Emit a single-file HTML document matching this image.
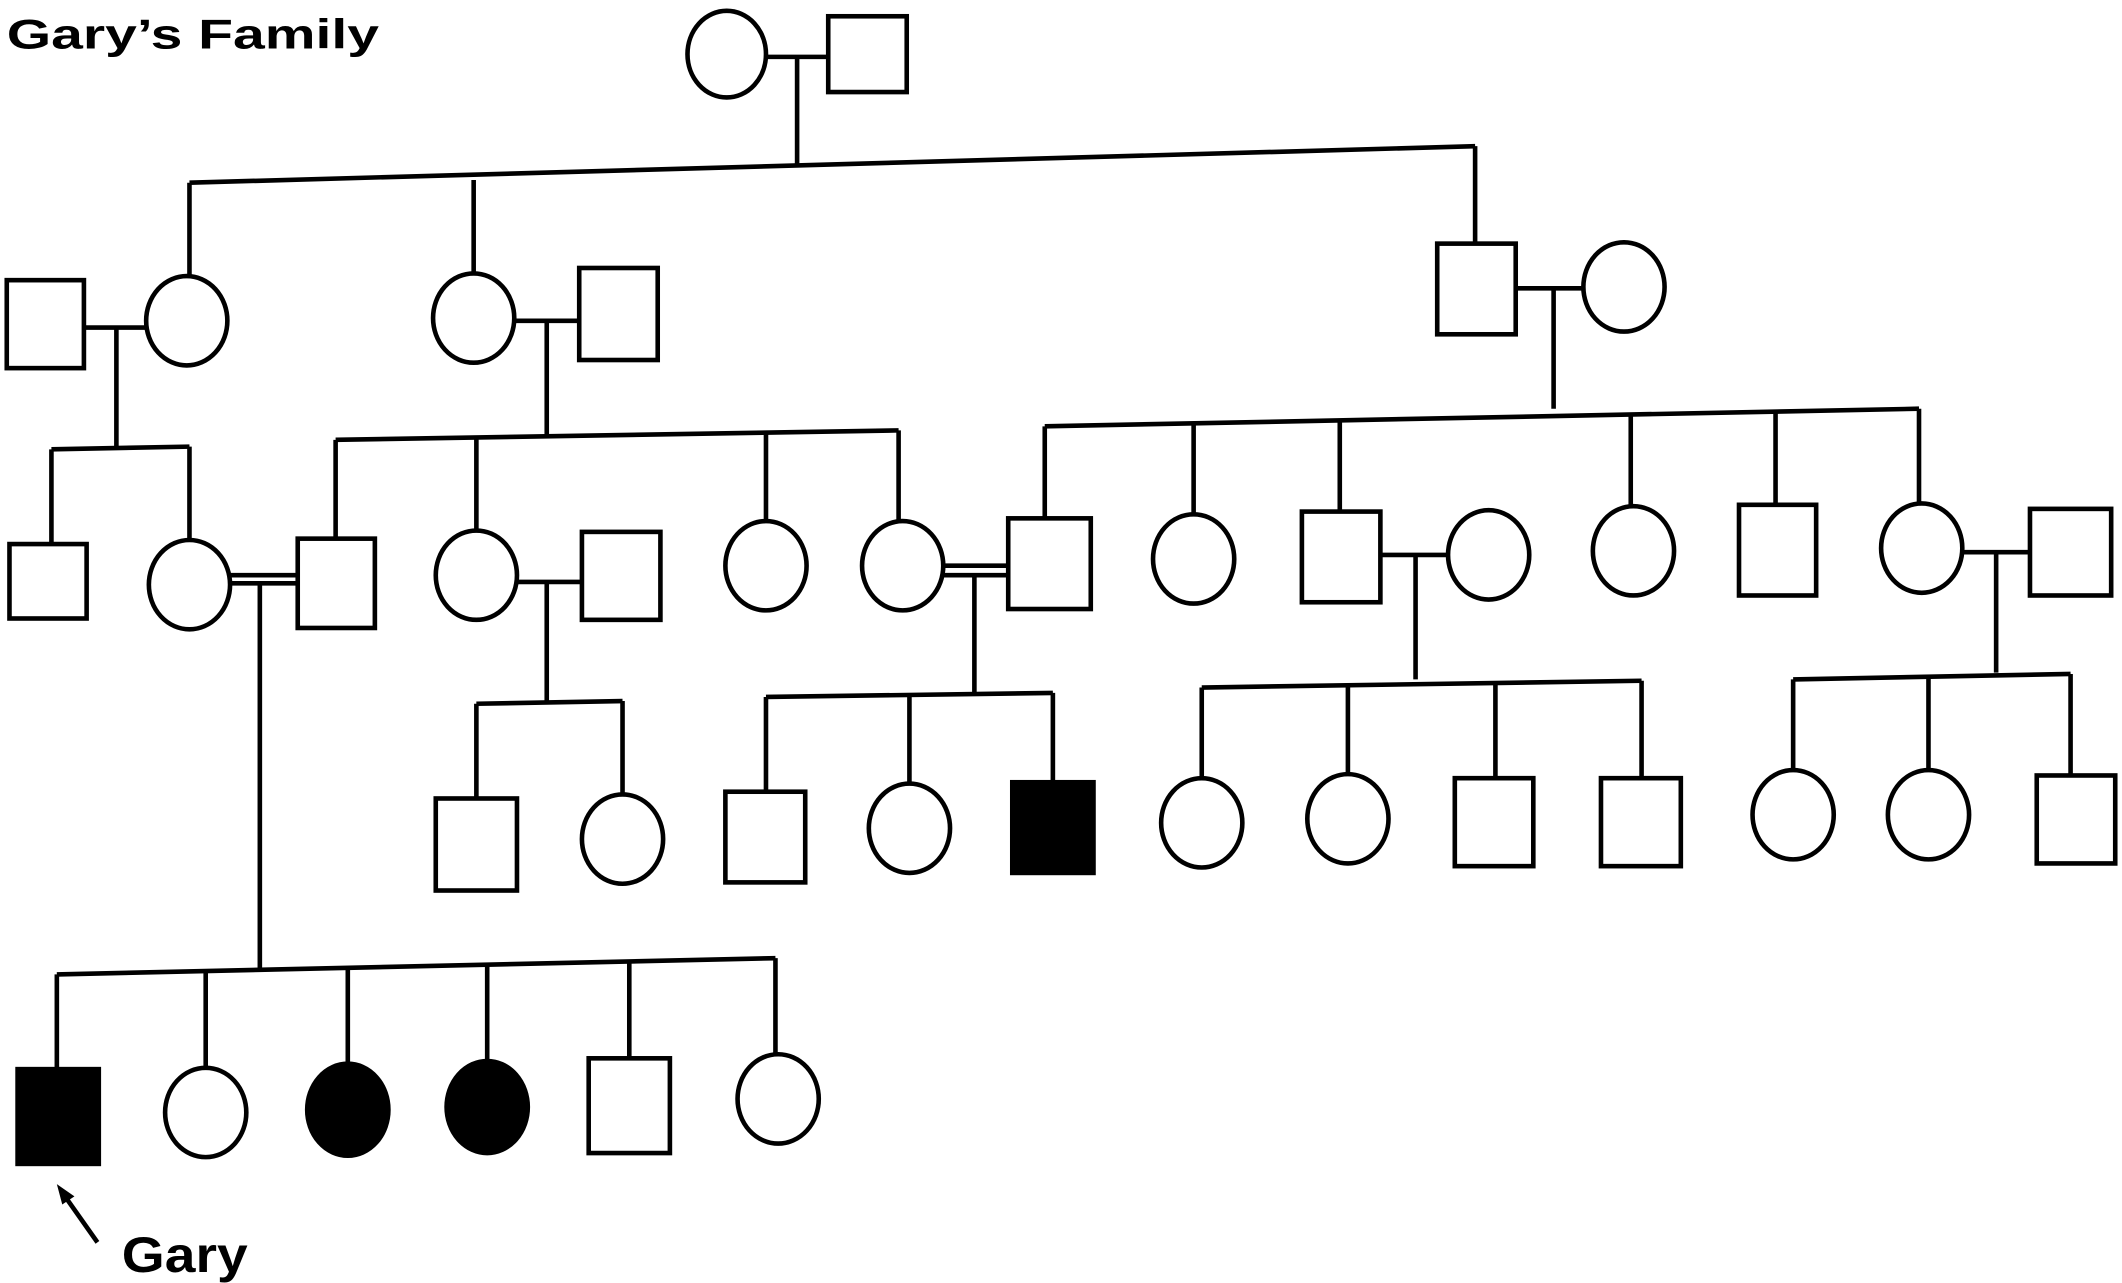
<!DOCTYPE html>
<html><head><meta charset="utf-8"><style>html,body{margin:0;padding:0;background:#fff}svg{display:block}</style></head><body>
<svg width="2122" height="1283" viewBox="0 0 1568 948" xmlns="http://www.w3.org/2000/svg">
<g fill="none" stroke="#000" stroke-width="3.4">
<!-- gen1 -->
<ellipse cx="537" cy="40" rx="29" ry="32"/><rect x="612" y="12" width="58" height="56"/>
<line x1="566" y1="42" x2="612" y2="42"/><line x1="589" y1="42" x2="589" y2="123"/>
<line x1="140" y1="135" x2="1090" y2="108"/>
<line x1="140" y1="135" x2="140" y2="205"/><line x1="350" y1="133" x2="350" y2="202"/><line x1="1090" y1="108" x2="1090" y2="180"/>
<!-- gen2 -->
<rect x="5" y="207" width="57" height="65"/><ellipse cx="138" cy="237" rx="30" ry="33"/>
<line x1="62" y1="242" x2="108" y2="242"/><line x1="86" y1="242" x2="86" y2="330"/>
<ellipse cx="350" cy="235" rx="30" ry="33"/><rect x="428" y="198" width="58" height="68"/>
<line x1="380" y1="237" x2="428" y2="237"/><line x1="404" y1="237" x2="404" y2="322"/>
<rect x="1062" y="180" width="58" height="67"/><ellipse cx="1200" cy="212" rx="30" ry="33"/>
<line x1="1120" y1="213" x2="1170" y2="213"/><line x1="1148" y1="213" x2="1148" y2="302"/>
<!-- gen3 left -->
<line x1="38" y1="332" x2="140" y2="330"/><line x1="38" y1="332" x2="38" y2="402"/><line x1="140" y1="330" x2="140" y2="399"/>
<rect x="7" y="402" width="57" height="55"/><ellipse cx="140" cy="432" rx="30" ry="33"/>
<line x1="170" y1="425" x2="220" y2="425"/><line x1="170" y1="431" x2="220" y2="431"/>
<rect x="220" y="398" width="57" height="66"/>
<line x1="192" y1="431" x2="192" y2="716"/>
<line x1="248" y1="325" x2="664" y2="318"/>
<line x1="248" y1="325" x2="248" y2="398"/><line x1="352" y1="324" x2="352" y2="392"/><line x1="566" y1="321" x2="566" y2="385"/><line x1="664" y1="318" x2="664" y2="385"/>
<ellipse cx="352" cy="425" rx="30" ry="33"/><line x1="382" y1="430" x2="430" y2="430"/>
<rect x="430" y="393" width="58" height="65"/><line x1="404" y1="430" x2="404" y2="518"/>
<ellipse cx="566" cy="418" rx="30" ry="33"/><ellipse cx="667" cy="418" rx="30" ry="33"/>
<line x1="697" y1="418" x2="745" y2="418"/><line x1="697" y1="425" x2="745" y2="425"/>
<rect x="745" y="383" width="61" height="67"/><line x1="720" y1="425" x2="720" y2="512"/>
<line x1="772" y1="315" x2="1418" y2="302"/>
<line x1="772" y1="315" x2="772" y2="383"/><line x1="882" y1="313" x2="882" y2="380"/><line x1="990" y1="311" x2="990" y2="378"/><line x1="1205" y1="306" x2="1205" y2="374"/><line x1="1312" y1="304" x2="1312" y2="373"/><line x1="1418" y1="302" x2="1418" y2="372"/>
<ellipse cx="882" cy="413" rx="30" ry="33"/><rect x="962" y="378" width="58" height="67"/>
<line x1="1020" y1="410" x2="1070" y2="410"/><ellipse cx="1100" cy="410" rx="30" ry="33"/>
<line x1="1046" y1="410" x2="1046" y2="502"/>
<ellipse cx="1207" cy="407" rx="30" ry="33"/><rect x="1285" y="373" width="57" height="67"/>
<ellipse cx="1420" cy="405" rx="30" ry="33"/><line x1="1450" y1="408" x2="1500" y2="408"/>
<rect x="1500" y="376" width="60" height="64"/><line x1="1475" y1="408" x2="1475" y2="497"/>
<!-- gen4 -->
<line x1="352" y1="520" x2="460" y2="518"/><line x1="352" y1="520" x2="352" y2="590"/><line x1="460" y1="518" x2="460" y2="587"/>
<rect x="322" y="590" width="60" height="68"/><ellipse cx="460" cy="620" rx="30" ry="33"/>
<line x1="566" y1="515" x2="778" y2="512"/><line x1="566" y1="515" x2="566" y2="585"/><line x1="672" y1="514" x2="672" y2="580"/><line x1="778" y1="512" x2="778" y2="578"/>
<rect x="536" y="585" width="59" height="67"/><ellipse cx="672" cy="612" rx="30" ry="33"/>
<rect x="748" y="578" width="60" height="67" fill="#000"/>
<line x1="888" y1="508" x2="1213" y2="503"/><line x1="888" y1="508" x2="888" y2="575"/><line x1="996" y1="507" x2="996" y2="573"/><line x1="1105" y1="505" x2="1105" y2="575"/><line x1="1213" y1="503" x2="1213" y2="575"/>
<ellipse cx="888" cy="608" rx="30" ry="33"/><ellipse cx="996" cy="605" rx="30" ry="33"/>
<rect x="1075" y="575" width="58" height="65"/><rect x="1183" y="575" width="59" height="65"/>
<line x1="1325" y1="502" x2="1530" y2="498"/><line x1="1325" y1="502" x2="1325" y2="570"/><line x1="1425" y1="500" x2="1425" y2="570"/><line x1="1530" y1="498" x2="1530" y2="573"/>
<ellipse cx="1325" cy="602" rx="30" ry="33"/><ellipse cx="1425" cy="602" rx="30" ry="33"/>
<rect x="1505" y="573" width="58" height="65"/>
<!-- gen5 -->
<line x1="42" y1="720" x2="573" y2="708"/>
<line x1="42" y1="720" x2="42" y2="790"/><line x1="152" y1="718" x2="152" y2="790"/><line x1="257" y1="715" x2="257" y2="787"/><line x1="360" y1="713" x2="360" y2="785"/><line x1="465" y1="711" x2="465" y2="782"/><line x1="573" y1="708" x2="573" y2="779"/>
<rect x="13" y="790" width="60" height="70" fill="#000"/>
<ellipse cx="152" cy="822" rx="30" ry="33"/>
<ellipse cx="257" cy="820" rx="30" ry="34" fill="#000"/><ellipse cx="360" cy="818" rx="30" ry="34" fill="#000"/>
<rect x="435" y="782" width="60" height="70"/><ellipse cx="575" cy="812" rx="30" ry="33"/>
<line x1="72" y1="918" x2="48" y2="884"/>
</g>
<polygon points="42,875 55,884 46,890" fill="#000"/>
<text x="5" y="36" font-family="Liberation Sans, sans-serif" font-weight="bold" font-size="31" textLength="275" lengthAdjust="spacingAndGlyphs">Gary’s Family</text>
<text x="90" y="940" font-family="Liberation Sans, sans-serif" font-weight="bold" font-size="37" textLength="93" lengthAdjust="spacingAndGlyphs">Gary</text>
</svg>
</body></html>
